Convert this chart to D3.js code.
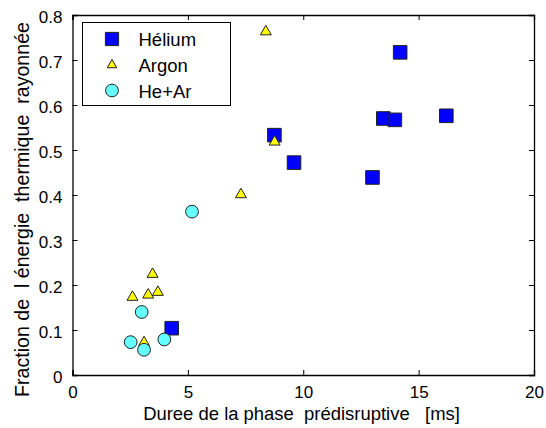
<!DOCTYPE html>
<html><head><meta charset="utf-8">
<script src="https://cdn.jsdelivr.net/npm/d3@7"></script>
<style>body{margin:0;background:#fff}svg{display:block}text{font-family:"Liberation Sans",Arial,sans-serif;fill:#000}</style>
</head><body><svg id="c" width="546" height="428"></svg>
<script>
const heliumX=[8.75,9.6,13.0,13.47,13.97,14.2,16.2,4.3];
const heliumY=[0.533,0.472,0.439,0.570,0.567,0.717,0.576,0.104];
const argonX=[8.38,8.76,7.3,2.6,3.47,3.28,3.7,3.1];
const argonY=[0.763,0.518,0.401,0.173,0.224,0.178,0.184,0.072];
const mixX=[5.18,3.0,2.52,3.1,3.98];
const mixY=[0.363,0.14,0.073,0.056,0.079];
const xTicks=[0,5,10,15,20];
const yTicks=[0,0.1,0.2,0.3,0.4,0.5,0.6,0.7,0.8];
const legendLabels=["Hélium","Argon","He+Ar"];

const svg=d3.select("#c");
const L=72.5,R=534,T=15,B=375;
const x=d3.scaleLinear().domain([0,20]).range([L,R]);
const y=d3.scaleLinear().domain([0,0.8]).range([B,T]);

const fmtY=d=>d===0?"0":d3.format(".1f")(d);
const axB=svg.append("g").attr("transform",`translate(0,${B})`).call(d3.axisBottom(x).tickValues(xTicks).tickSize(-5).tickPadding(11));
const axL=svg.append("g").attr("transform",`translate(${L},0)`).call(d3.axisLeft(y).tickValues(yTicks).tickFormat(fmtY).tickSize(-5).tickPadding(10));
const axT=svg.append("g").attr("transform",`translate(0,${T})`).call(d3.axisTop(x).tickValues(xTicks).tickSize(-5).tickFormat(""));
const axR=svg.append("g").attr("transform",`translate(${R},0)`).call(d3.axisRight(y).tickValues(yTicks).tickSize(-5).tickFormat(""));
[axB,axL,axT,axR].forEach(g=>{g.select(".domain").attr("stroke","#000").attr("stroke-width",1.3);g.selectAll(".tick line").attr("stroke","#000");g.selectAll("text").style("font-size","17px").attr("fill","#000");});
axL.selectAll("text").attr("dy","0.45em");
axB.selectAll("text").attr("dy","0.68em");

const stroke="#222";
const sym=(type,size)=>d3.symbol().type(type).size(size)();
const data=[];
heliumX.forEach((v,i)=>data.push({t:"h",x:v,y:heliumY[i]}));
argonX.forEach((v,i)=>data.push({t:"a",x:v,y:argonY[i]}));
mixX.forEach((v,i)=>data.push({t:"m",x:v,y:mixY[i]}));
const style={h:{type:d3.symbolSquare,size:185,fill:"#0000ff"},a:{type:d3.symbolTriangle,size:52,fill:"#ffff00"},m:{type:d3.symbolCircle,size:128,fill:"#66ffff"}};
svg.append("g").selectAll("path").data(data).join("path")
 .attr("d",d=>sym(style[d.t].type,style[d.t].size))
 .attr("transform",d=>`translate(${x(d.x)},${y(d.y)})`)
 .attr("fill",d=>style[d.t].fill).attr("stroke",stroke).attr("stroke-width",1);

// legend
const lg=svg.append("g");
lg.append("rect").attr("x",82.5).attr("y",22.5).attr("width",148).attr("height",83).attr("fill","#fff").attr("stroke","#000").attr("stroke-width",1);
const lsty=[{type:d3.symbolSquare,size:175,fill:"#0000ff"},{type:d3.symbolTriangle,size:40,fill:"#ffff00"},{type:d3.symbolCircle,size:128,fill:"#66ffff"}];
const rows=[39,65,90.5];
legendLabels.forEach((lab,i)=>{
 lg.append("path").attr("d",sym(lsty[i].type,lsty[i].size)).attr("transform",`translate(112,${rows[i]})`).attr("fill",lsty[i].fill).attr("stroke",stroke);
 lg.append("text").attr("x",138.5).attr("y",rows[i]).attr("dy","0.4em").style("font-size","18.5px").text(lab);
});

function fit(sel,target,base){sel.style("font-size",base+"px");const w=sel.node().getComputedTextLength();if(w>0)sel.style("font-size",(base*target/w).toFixed(2)+"px");}
const xl=svg.append("text").attr("x",301.5).attr("y",420).attr("text-anchor","middle").style("white-space","pre").text("Duree de la phase  prédisruptive   [ms]");
fit(xl,317,18);
const yl=svg.append("text").attr("transform",`translate(29,209.5) rotate(-90)`).attr("text-anchor","middle").style("white-space","pre").text("Fraction de  l énergie  thermique  rayonnée");
fit(yl,375,18);
</script></body></html>
